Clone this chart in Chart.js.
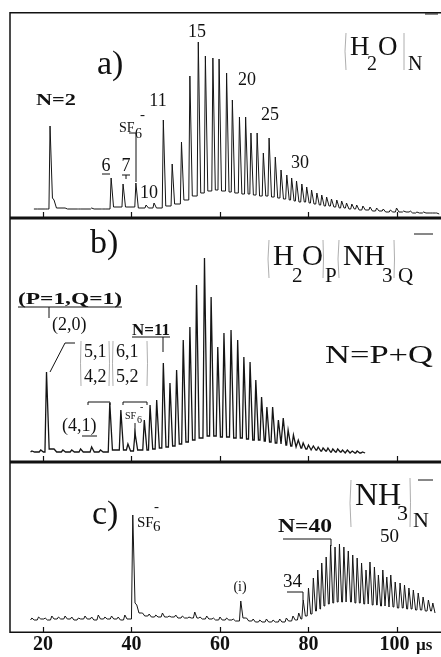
<!DOCTYPE html>
<html>
<head>
<meta charset="utf-8">
<script src="https://cdn.jsdelivr.net/npm/chart.js@4.4.1/dist/chart.umd.min.js"></script>
<style>
  html, body { margin: 0; padding: 0; background: #fff; }
  #page { position: relative; width: 441px; height: 657px; overflow: hidden; background: #fff; }
  #page canvas { position: absolute; left: 0; }
</style>
</head>
<body>
<div id="page">
  <canvas id="chartA" style="top:0px"></canvas>
  <canvas id="chartB" style="top:218px"></canvas>
  <canvas id="chartC" style="top:462px"></canvas>
</div>
<script>
// ---- data (flight time in µs, signal in arbitrary units) ----
const xTicks = [20, 40, 60, 80, 100];

// a) (H2O)N-
const aTimes   = [18.2, 20.5, 21.6, 22.5, 25, 28, 31, 33.5, 35.4, 38.1, 41.0, 43.3, 45.1, 47.2, 49.2, 51.3, 53.2, 55.1, 56.7, 58.4,
                  59.8, 61.5, 62.8, 64.4, 65.8, 67.0, 68.4, 69.8, 71.1, 72.5, 73.8, 75.1, 76.2, 77.3, 78.5, 79.6, 80.7, 81.9, 83.0, 84.1,
                  85.2, 86.4, 87.5, 88.6, 89.8, 90.9, 92.3, 93.9, 95.4, 96.9, 98.5, 99.9, 101.5, 103, 104.5, 106, 107.5, 109];
const aPeaks   = [9, 9, 92, 18, 10, 9, 10, 9, 40, 34, 35, 13, 15, 98, 54, 76, 142, 176, 162, 160,
                  159, 145, 118, 101, 101, 85, 85, 65, 80, 61, 48, 43, 40, 37, 34, 31, 28, 25, 23, 21,
                  19, 18, 17, 15, 14, 13, 12, 11, 10, 9, 8, 10, 7, 7, 6, 6, 5, 5];
const aTroughs = [9, 9, 20, 10, 9, 9, 9, 9, 11, 11, 10, 10, 10, 12, 14, 18, 22, 25, 27, 28,
                  27, 26, 25, 24, 24, 23, 22, 22, 21, 20, 19, 18, 17, 16, 16, 15, 14, 13, 12, 12,
                  11, 10, 10, 9, 9, 8, 8, 7, 7, 6, 6, 6, 6, 5, 5, 5, 5, 4];

// b) (H2O)P(NH3)Q-
const bTimes   = [17.5, 19.5, 20.8, 22.5, 24.5, 26.5, 28.5, 31.0, 33.0, 35.1, 37.6, 39.2, 40.8, 42.9, 44.2, 45.7, 47.2, 48.7, 50.2, 51.7,
                  53.2, 54.7, 56.5, 58.0, 59.5, 60.9, 62.5, 64.0, 65.4, 66.8, 68.1, 69.4, 70.6, 71.9, 73.2, 74.3, 75.4, 76.6, 77.7, 78.8,
                  80.0, 81.1, 82.2, 83.3, 84.4, 85.5, 86.6, 87.7, 88.8, 89.9, 91.0, 92.2];
const bPeaks   = [11, 12, 90, 13, 12, 12, 13, 15, 12, 59, 52, 18, 29, 42, 57, 62, 99, 79, 92, 122,
                  135, 177, 204, 165, 115, 129, 132, 122, 105, 100, 82, 65, 55, 55, 42, 44, 32, 27, 22, 19,
                  17, 16, 15, 14, 14, 13, 13, 12, 12, 11, 11, 10];
const bTroughs = [10, 10, 13, 10, 10, 10, 10, 10, 10, 12, 12, 11, 12, 12, 13, 14, 15, 16, 18, 20,
                  22, 24, 26, 26, 25, 25, 24, 24, 23, 22, 22, 21, 20, 19, 18, 17, 16, 15, 14, 13,
                  12, 12, 11, 11, 10, 10, 10, 9, 9, 9, 9, 9];

// c) (NH3)N-
const cTimes   = [17.5, 19, 20.5, 22, 23.5, 25, 26.5, 28, 29.5, 31, 32.5, 34, 35.5, 37, 38.5, 40.3, 41.2, 42.5, 44, 45.5,
                  47, 48.5, 50, 51.5, 53, 54.3, 55.5, 57, 58.5, 60, 61.5, 63, 64.7, 66, 67.5, 69, 70.5, 72, 73.5, 75,
                  76.5, 77.8, 78.8, 80.0, 81.1, 82.1, 83.0, 84.0, 85.0, 86.0, 87.0, 88.0, 89.0, 90.0, 91.0, 92.0, 93.0, 93.9, 94.9, 95.8,
                  96.8, 97.7, 98.6, 99.6, 100.7, 101.7, 102.7, 103.7, 104.8, 105.9, 107.1, 108.1];
const cPeaks   = [15, 16, 15, 17, 16, 17, 16, 15, 17, 16, 18, 16, 17, 16, 18, 118, 28, 20, 19, 18,
                  20, 17, 18, 17, 16, 21, 16, 17, 15, 16, 15, 14, 32, 15, 14, 13, 14, 13, 14, 15,
                  17, 20, 33, 45, 55, 63, 70, 76, 88, 86, 89, 86, 82, 78, 75, 70, 63, 71, 66, 58,
                  63, 56, 58, 51, 50, 48, 45, 43, 40, 36, 33, 30];
const cTroughs = [13, 14, 13, 14, 14, 14, 13, 14, 14, 13, 14, 14, 14, 13, 14, 30, 20, 17, 16, 16,
                  16, 16, 15, 15, 15, 15, 14, 14, 13, 13, 13, 12, 15, 12, 11, 11, 11, 11, 11, 12,
                  13, 14, 17, 19, 22, 24, 27, 29, 30, 31, 31, 31, 31, 30, 30, 29, 29, 28, 28, 27,
                  27, 26, 26, 25, 25, 24, 24, 23, 23, 22, 22, 20];

const X_MIN = 12.55, X_MAX = 109.95;
const SERIF = '"Liberation Serif", "DejaVu Serif", serif';

// peak list -> polyline vertices (fast rise, slower tail)
function buildTrace(times, peaks, troughs, rise, fall) {
    const pts = [];
    for (let i = 0; i < times.length; i++) {
        const t = times[i];
        const before = i > 0 ? t - times[i - 1] : 1;
        const after = i < times.length - 1 ? times[i + 1] - t : 1;
        const r = Math.min(rise, before * 0.3);
        const f = Math.min(fall, after * 0.6);
        pts.push({ x: t - r, y: i > 0 ? troughs[i - 1] : troughs[0] });
        pts.push({ x: t, y: peaks[i] });
        pts.push({ x: t + f, y: troughs[i] });
    }
    return pts;
}

// ---- annotations, page pixel coords ----
// text: [str, x, baselineY, sizePx, bold, align, targetWidth]
const annA = {
    texts: [
        ['a)', 97, 74, 34, false, 'left'],
        ['N=2', 56, 105, 16, true, 'center', 40],
        ['6', 106, 171, 18, false, 'center'],
        ['7', 126, 171, 18, false, 'center'],
        ['SF', 119, 132, 14, false, 'left'],
        ['6', 135, 138, 14, false, 'left'],
        ['-', 140, 119, 15, false, 'left'],
        ['10', 140, 198, 18, false, 'left'],
        ['11', 158, 106, 18, false, 'center'],
        ['15', 197, 37, 18, false, 'center'],
        ['20', 247, 85, 18, false, 'center'],
        ['25', 270, 120, 18, false, 'center'],
        ['30', 300, 168, 18, false, 'center'],
        ['H', 350, 55, 27, false, 'left'],
        ['2', 367, 70, 20, false, 'left'],
        ['O', 378, 55, 27, false, 'left'],
        ['N', 408, 70, 20, false, 'left'],
    ],
    lines: [
        [102, 174, 110, 174],
        [122, 175, 130, 175], [126, 175, 126, 179],
        [129, 133, 136, 133, 136, 182],
        [425, 14, 438, 14],
    ],
    thin: [
        [346, 33, 344, 51, 346, 70],
        [404, 33, 404, 70],
    ],
};
const annB = {
    texts: [
        ['b)', 90, 253, 34, false, 'left'],
        ['(P=1,Q=1)', 18, 304, 17, true, 'left', 104],
        ['(2,0)', 52, 330, 18, false, 'left'],
        ['5,1', 84, 357, 18, false, 'left'],
        ['4,2', 84, 382, 18, false, 'left'],
        ['6,1', 116, 357, 18, false, 'left'],
        ['5,2', 116, 382, 18, false, 'left'],
        ['(4,1)', 62, 431, 18, false, 'left'],
        ['N=11', 132, 335, 17, true, 'left', 38],
        ['SF', 125, 419, 10, false, 'left'],
        ['6', 137, 423, 10, false, 'left'],
        ['-', 140, 410, 10, false, 'left'],
        ['H', 273, 265, 29, false, 'left'],
        ['2', 292, 282, 21, false, 'left'],
        ['O', 302, 265, 29, false, 'left'],
        ['P', 325, 282, 21, false, 'left'],
        ['NH', 343, 265, 29, false, 'left'],
        ['3', 382, 282, 21, false, 'left'],
        ['Q', 398, 282, 21, false, 'left'],
        ['N=P+Q', 325, 363, 25, false, 'left', 108],
    ],
    lines: [
        [18, 307, 122, 307], [49, 307, 49, 318],
        [75, 343, 65, 343, 50, 372],
        [88, 405, 88, 402, 110, 402, 110, 405],
        [123, 405, 123, 402, 147, 402, 147, 405],
        [82, 436, 97, 436],
        [132, 337, 170, 337], [163, 337, 163, 352],
        [135, 423, 135, 438],
        [414, 234, 433, 234],
    ],
    thin: [
        [81, 341, 80, 363, 81, 386], [109, 341, 110, 363, 109, 386],
        [113, 341, 112, 363, 113, 386], [147, 341, 148, 363, 147, 386],
        [269, 240, 267, 259, 269, 278], [323, 240, 324, 259, 323, 278],
        [339, 240, 337, 259, 339, 278], [394, 240, 395, 259, 394, 278],
    ],
};
const annC = {
    texts: [
        ['c)', 92, 524, 34, false, 'left'],
        ['SF', 137, 527, 15, false, 'left'],
        ['6', 153, 531, 15, false, 'left'],
        ['-', 154, 511, 15, false, 'left'],
        ['(i)', 240, 591, 14, false, 'center'],
        ['34', 283, 587, 19, false, 'left'],
        ['N=40', 278, 532, 19, true, 'left', 54],
        ['50', 380, 542, 19, false, 'left'],
        ['NH', 355, 505, 32, false, 'left'],
        ['3', 397, 520, 22, false, 'left'],
        ['N', 413, 527, 22, false, 'left'],
        ['\u00b5s', 416, 650, 17, true, 'left'],
    ],
    lines: [
        [287, 592, 303, 592, 303, 600],
        [283, 539, 331, 539, 331, 546],
        [418, 480, 433, 480],
    ],
    thin: [
        [351, 480, 349, 503, 351, 527],
        [410, 478, 411, 503, 410, 527],
    ],
};

function makeDecor(offsetY, ann) {
    return {
        id: 'decor',
        afterDraw(chart) {
            const ctx = chart.ctx;
            const a = chart.chartArea;
            const xs = chart.scales.x;
            ctx.save();
            // frame: left, top, bottom (right edge runs off the page)
            ctx.strokeStyle = '#111';
            ctx.lineWidth = 1.5;
            ctx.beginPath();
            ctx.moveTo(a.right + 5, a.top + 0.75);
            ctx.lineTo(a.left, a.top + 0.75);
            ctx.lineTo(a.left, a.bottom - 0.75);
            ctx.lineTo(a.right + 5, a.bottom - 0.75);
            ctx.stroke();
            // inward tick marks
            ctx.lineWidth = 1.2;
            xTicks.forEach(v => {
                const px = Math.round(xs.getPixelForValue(v)) + 0.5;
                ctx.beginPath();
                ctx.moveTo(px, a.bottom);
                ctx.lineTo(px, a.bottom - 6);
                ctx.stroke();
            });
            // leader lines
            ctx.lineWidth = 1;
            ann.lines.forEach(l => {
                ctx.beginPath();
                ctx.moveTo(l[0], l[1] - offsetY);
                for (let i = 2; i < l.length; i += 2) ctx.lineTo(l[i], l[i + 1] - offsetY);
                ctx.stroke();
            });
            ctx.strokeStyle = '#999';
            ctx.lineWidth = 0.8;
            ann.thin.forEach(l => {
                ctx.beginPath();
                ctx.moveTo(l[0], l[1] - offsetY);
                if (l.length === 6) ctx.quadraticCurveTo(l[2], l[3] - offsetY, l[4], l[5] - offsetY);
                else ctx.lineTo(l[2], l[3] - offsetY);
                ctx.stroke();
            });
            // labels
            ctx.fillStyle = '#111';
            ctx.textBaseline = 'alphabetic';
            ann.texts.forEach(([s, x, y, size, bold, align, w]) => {
                ctx.font = (bold ? 'bold ' : '') + size + 'px ' + SERIF;
                ctx.textAlign = align;
                if (w) {
                    const m = ctx.measureText(s).width;
                    const k = w / m;
                    ctx.save();
                    ctx.translate(x, y - offsetY);
                    ctx.scale(k, 1);
                    ctx.fillText(s, 0, 0);
                    ctx.restore();
                } else {
                    ctx.fillText(s, x, y - offsetY);
                }
            });
            ctx.restore();
        }
    };
}

function makePanel(id, height, topPad, yMax, pts, ann, offsetY, showAxis, lw) {
    const cv = document.getElementById(id);
    cv.width = 441; cv.height = height;
    cv.style.width = '441px'; cv.style.height = height + 'px';
    return new Chart(cv, {
        type: 'line',
        data: { datasets: [{ data: pts, borderColor: '#151515', borderWidth: lw, pointRadius: 0, tension: 0, fill: false }] },
        options: {
            responsive: false,
            animation: false,
            events: [],
            layout: { padding: { top: topPad, left: 10, right: 0, bottom: showAxis ? 0 : 1 } },
            plugins: { legend: { display: false }, tooltip: { enabled: false } },
            scales: {
                x: {
                    type: 'linear', min: X_MIN, max: X_MAX,
                    display: showAxis,
                    afterBuildTicks: s => { s.ticks = xTicks.map(v => ({ value: v })); },
                    afterFit: s => { s.height = showAxis ? 24 : 0; },
                    grid: { display: false, drawTicks: false },
                    border: { display: false },
                    ticks: {
                        autoSkip: false, maxRotation: 0, padding: 0, color: '#111',
                        font: { family: SERIF, size: 20, weight: 'bold' },
                        callback: v => v === 100 ? '100 ' : String(v),
                    },
                },
                y: { display: false, min: 0, max: yMax },
            },
        },
        plugins: [makeDecor(offsetY, ann)],
    });
}

makePanel('chartA', 219, 12, 206, buildTrace(aTimes, aPeaks, aTroughs, 0.25, 0.55), annA, 0, false, 1);
makePanel('chartB', 245, 0, 244, buildTrace(bTimes, bPeaks, bTroughs, 0.35, 0.6), annB, 218, false, 1.3);
makePanel('chartC', 195, 0, 171, buildTrace(cTimes, cPeaks, cTroughs, 0.3, 0.5), annC, 462, true, 1);
</script>
</body>
</html>
